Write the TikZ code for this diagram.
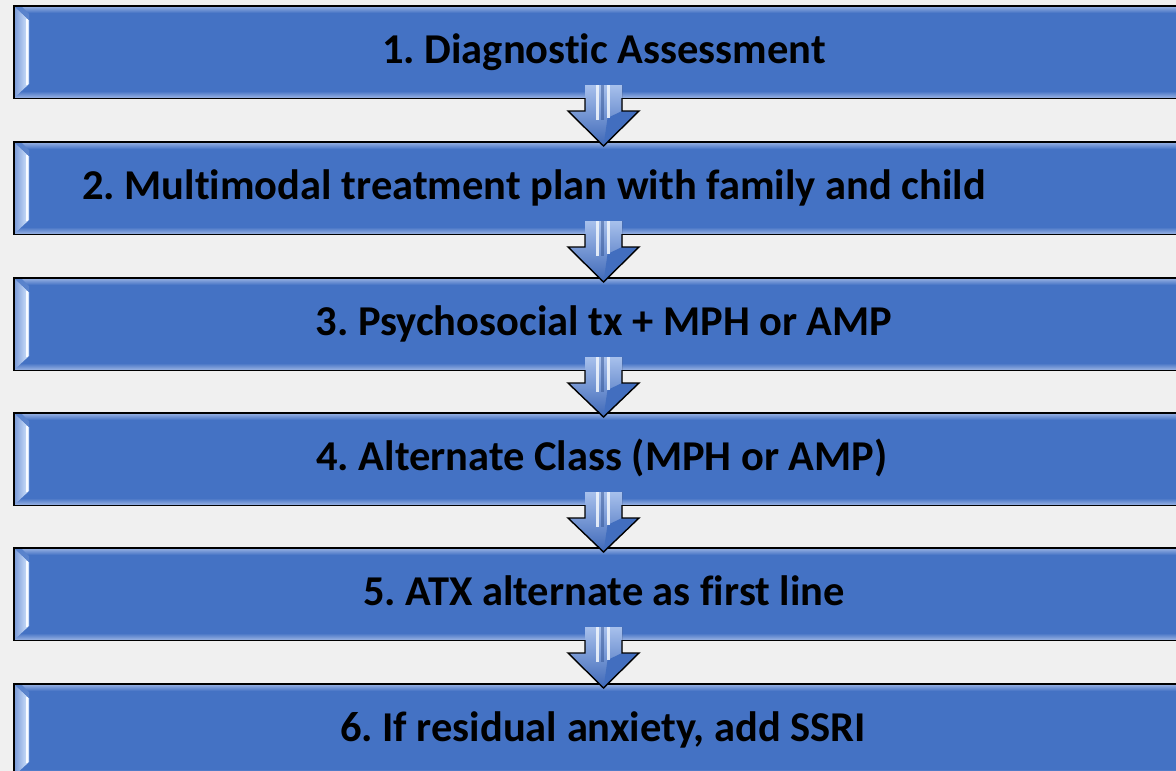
\documentclass[tikz,border=0pt]{standalone}
\usepackage{fontspec}
\setmainfont[Ligatures=NoCommon]{Carlito}
\usetikzlibrary{calc}
\definecolor{bg}{HTML}{F0F0F0}
\definecolor{boxblue}{HTML}{4472C4}
\definecolor{bevlight}{HTML}{8EAADF}
\definecolor{bevbright}{HTML}{D6E8FF}
\definecolor{arrtop}{HTML}{A7C0EC}
\definecolor{arrbot}{HTML}{3E68B8}
\tikzset{
  stepbox/.style={rectangle, draw=black, line width=1.6pt, fill=boxblue, outer sep=0pt,
    minimum width=1166pt, minimum height=92pt, anchor=north west, inner sep=0pt},
  lbl/.style={anchor=base, font=\fontsize{42.5}{50}\selectfont\bfseries, text=black, inner sep=0pt},
  arrfill/.style={top color=arrtop, bottom color=arrbot},
  arrline/.style={draw=black, line width=1.4pt, line join=miter},
}
\newcommand\bevels[1]{%
  \shade[top color=bevlight, bottom color=boxblue] ($(#1.north west)+(1,1)$) rectangle ($(#1.north east)+(-1,7)$);
  \shade[top color=boxblue, bottom color=bevlight] ($(#1.south west)+(1,-7)$) rectangle ($(#1.south east)+(-1,-1)$);
  \shade[left color=bevlight!80!boxblue, right color=bevbright]
    ($(#1.north west)+(1,1)$) -- ($(#1.north west)+(15,14)$) -- ($(#1.south west)+(15,-14)$) -- ($(#1.south west)+(1,-1)$) -- cycle;
  \draw[white!85!bevbright, line width=1.6pt] ($(#1.north west)+(13,13)$) -- ($(#1.south west)+(13,-13)$);
  \fill[boxblue!70!bevlight] ($(#1.north west)+(1,1)$) -- ($(#1.north west)+(15,14)$) -- ($(#1.north west)+(15,8)$) -- ($(#1.north west)+(8,1)$) -- cycle;
}
\newcommand\blockarr[2]{%
  \coordinate (s) at (#1.south -| ax);
  \coordinate (e) at ($(#2.north -| ax)+(0,4)$);
  \fill[arrfill] ($(s)+(-18.5,-13)$) -- ($(s)+(-18.5,13)$) -- ($(s)+(-35.5,13)$) -- (e) -- ($(s)+(35.5,13)$) -- ($(s)+(18.5,13)$) -- ($(s)+(18.5,-13)$) -- cycle;
  \fill[boxblue!60!arrbot] ($(s)+(4,20)$) -- ($(s)+(18.5,13)$) -- ($(s)+(35.5,13)$) -- (e) -- cycle;
  \fill[white!80!arrtop, opacity=0.9] ($(s)+(-8,-13)$) rectangle ($(s)+(-5,22)$);
  \fill[white!80!arrtop, opacity=0.9] ($(s)+(3,-13)$) rectangle ($(s)+(6,20)$);
  \fill[arrbot!80!black, opacity=0.5] ($(s)+(-3,-13)$) rectangle ($(s)+(0,22)$);
  \draw[arrline] ($(s)+(-18.5,0)$) -- ($(s)+(-18.5,13)$) -- ($(s)+(-35.5,13)$) -- (e) -- ($(s)+(35.5,13)$) -- ($(s)+(18.5,13)$) -- ($(s)+(18.5,0)$);
}
\begin{document}
\frenchspacing
\begin{tikzpicture}[x=1pt,y=-1pt]
\fill[bg] (0,0) rectangle (1176,771);
\useasboundingbox (0,0) rectangle (1176,771);
\clip (0,0) rectangle (1176,771);
\coordinate (ax) at (603.5,0);
\node[stepbox] (b1) at (14,6) {};
\node[stepbox] (b2) at (14,142) {};
\node[stepbox] (b3) at (14,278) {};
\node[stepbox] (b4) at (14,413) {};
\node[stepbox] (b5) at (14,548) {};
\node[stepbox] (b6) at (14,684) {};
\bevels{b1}\bevels{b2}\bevels{b3}\bevels{b4}\bevels{b5}\bevels{b6}
\node[lbl] (t1) at (604,63) {1. Diagnostic Assessment};
\node[lbl] (t2) at (534,199) {2. Multimodal treatment plan with family and child};
\node[lbl] (t3) at (604,335) {3. Psychosocial tx + MPH or AMP};
\node[lbl] (t4) at (602,470) {4. Alternate Class (MPH or AMP)};
\node[lbl] (t5) at (604,605) {5. ATX alternate as first line};
\node[lbl] (t6) at (603,741) {6. If residual anxiety, add SSRI};
\blockarr{b1}{b2}
\blockarr{b2}{b3}
\blockarr{b3}{b4}
\blockarr{b4}{b5}
\blockarr{b5}{b6}
\end{tikzpicture}
\end{document}
